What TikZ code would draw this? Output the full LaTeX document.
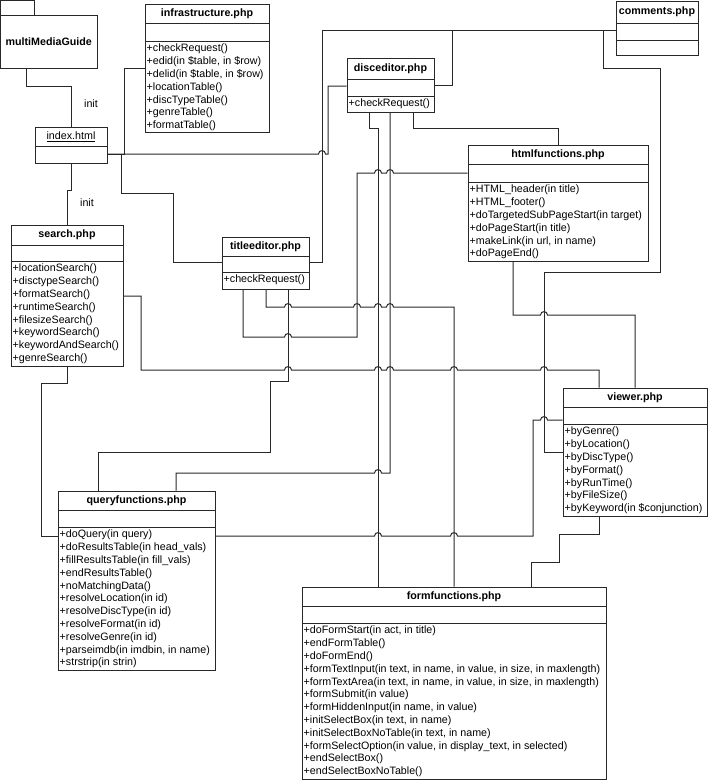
\documentclass[tikz,border=0pt]{standalone}
\usepackage{fontspec}
\setmainfont{Liberation Sans}
\usetikzlibrary{fit}
\definecolor{linec}{RGB}{40,40,40}
\tikzset{
  boxshape/.style={draw=linec, fill=white, line width=1pt, inner sep=0pt, rectangle},
  conn/.style={draw=linec, line width=1pt},
  titletext/.style={font=\bfseries\fontsize{10.7}{12.8}\selectfont, inner sep=0pt},
  methodtext/.style={font=\fontsize{10.7}{12.8}\selectfont, align=left, anchor=north west, inner xsep=1.5pt, inner ysep=1.8pt},
  lbl/.style={font=\fontsize{10.7}{12.8}\selectfont, inner sep=0pt}
}
% #1 name, #2 x1, #3 y1, #4 x2, #5 y2, #6 divider1, #7 divider2, #8 title, #9 methods
\newcommand\umlclass[9]{%
  \node[boxshape, fit={(#2,#3) (#4,#5)}] (#1) {};
  \draw[linec, line width=1pt] (#2,#6) -- (#4,#6);
  \draw[linec, line width=1pt] (#2,#7) -- (#4,#7);
  \node[titletext] at ({(#2+#4)/2},{(#3+#6)/2}) {#8};
  \node[methodtext] at (#2,#7) {\strut #9};
}
\newcommand\hr[2]{-- ({#1-3.5},#2) .. controls ({#1-3.5},{#2-4.5}) and ({#1+3.5},{#2-4.5}) .. ({#1+3.5},#2)}
\newcommand\hl[2]{-- ({#1+3.5},#2) .. controls ({#1+3.5},{#2-4.5}) and ({#1-3.5},{#2-4.5}) .. ({#1-3.5},#2)}
\begin{document}
\begin{tikzpicture}[x=1pt, y=-1pt]
\useasboundingbox (0,0) rectangle (708,780);

% ---------- nodes ----------
\node[boxshape, fit={(0.5,15) (97,68)}] (mmg) {};
\draw[linec, line width=1pt, fill=white] (0.5,15) -- (0.5,0.5) -- (34,0.5) -- (34,15);
\node[titletext] at (mmg.center) {multiMediaGuide};

\node[boxshape, fit={(35,127) (107,163)}] (index) {};
\draw[linec, line width=1pt] (35,146) -- (107,146);
\node[lbl] at (71,136.5) {\underline{index.html}};

\umlclass{infra}{145}{4}{269}{132}{23}{41}{infrastructure.php}{+checkRequest()\\+edid(in \$table, in \$row)\\+delid(in \$table, in \$row)\\+locationTable()\\+discTypeTable()\\+genreTable()\\+formatTable()}
\umlclass{disc}{347}{58}{434}{112}{79}{96}{disceditor.php}{+checkRequest()}
\umlclass{comments}{616}{1}{698}{55}{23}{40}{comments.php}{}
\umlclass{html}{468}{145}{648}{261}{164}{182}{htmlfunctions.php}{+HTML\_header(in title)\\+HTML\_footer()\\+doTargetedSubPageStart(in target)\\+doPageStart(in title)\\+makeLink(in url, in name)\\+doPageEnd()}
\umlclass{titleed}{222}{237}{309}{289}{256}{272}{titleeditor.php}{+checkRequest()}
\umlclass{search}{11}{225}{123}{366}{245}{261}{search.php}{+locationSearch()\\+disctypeSearch()\\+formatSearch()\\+runtimeSearch()\\+filesizeSearch()\\+keywordSearch()\\+keywordAndSearch()\\+genreSearch()}
\umlclass{viewer}{563}{388}{707}{516}{407}{424}{viewer.php}{+byGenre()\\+byLocation()\\+byDiscType()\\+byFormat()\\+byRunTime()\\+byFileSize()\\+byKeyword(in \$conjunction)}
\umlclass{query}{58}{491}{215}{670}{510}{527}{queryfunctions.php}{+doQuery(in query)\\+doResultsTable(in head\_vals)\\+fillResultsTable(in fill\_vals)\\+endResultsTable()\\+noMatchingData()\\+resolveLocation(in id)\\+resolveDiscType(in id)\\+resolveFormat(in id)\\+resolveGenre(in id)\\+parseimdb(in imdbin, in name)\\+strstrip(in strin)}
\umlclass{form}{302}{587}{606}{779}{606}{623}{formfunctions.php}{+doFormStart(in act, in title)\\+endFormTable()\\+doFormEnd()\\+formTextInput(in text, in name, in value, in size, in maxlength)\\+formTextArea(in text, in name, in value, in size, in maxlength)\\+formSubmit(in value)\\+formHiddenInput(in name, in value)\\+initSelectBox(in text, in name)\\+initSelectBoxNoTable(in text, in name)\\+formSelectOption(in value, in display\_text, in selected)\\+endSelectBox()\\+endSelectBoxNoTable()}

% ---------- connectors ----------
\draw[conn] (mmg.south -| 26,0) -- (26,86) -- (71,86) -- (index.north -| 71,0);
\node[lbl] at (91,104) {init};
\draw[conn] (index.south -| 71,0) -- (71,190) -- (67,190) -- (search.north -| 67,0);
\node[lbl] at (87,203) {init};

\draw[conn] (index.east |- 0,154) -- (124,154) -- (124,68) -- (infra.west |- 0,68);
\draw[conn] (index.east |- 0,154) \hr{322}{154} -- (328,154) -- (328,86) -- (disc.west |- 0,86);
\draw[conn] (index.east |- 0,154) -- (121,154) -- (121,193) -- (173,193) -- (173,262) -- (titleed.west |- 0,262);

\draw[conn] (comments.west |- 0,30) -- (322,30) -- (322,262) -- (titleed.east |- 0,262);
\draw[conn] (disc.east |- 0,85) -- (452,85) -- (452,30) -- (comments.west |- 0,30);
\draw[conn] (comments.west |- 0,30) -- (603,30) -- (603,68) -- (660,68) -- (660,272) -- (544,272) -- (544,452) -- (viewer.west |- 0,452);

\draw[conn] (disc.south -| 413,0) -- (413,128) -- (558,128) -- (html.north -| 558,0);
\draw[conn] (disc.south -| 369,0) -- (369,128) -- (378,128) -- (form.north -| 378,0);
\draw[conn] (disc.south -| 390,0) -- (390,473) \hl{378}{473} -- (176,473) -- (query.north -| 176,0);

\draw[conn] (titleed.south -| 243,0) -- (243,337) \hr{288}{337} -- (357,337) -- (357,173) \hr{378}{173} \hr{390}{173} -- (html.west |- 0,173);
\draw[conn] (titleed.south -| 266,0) -- (266,307) \hr{288}{307} \hr{357}{307} \hr{378}{307} \hr{390}{307} -- (454,307) -- (form.north -| 454,0);
\draw[conn] (titleed.south -| 288,0) -- (288,381) -- (270,381) -- (270,452) -- (98,452) -- (query.north -| 98,0);

\draw[conn] (search.east |- 0,296) -- (141,296) -- (141,370) \hr{288}{370} \hr{378}{370} \hr{390}{370} \hr{454}{370} \hr{544}{370} -- (599,370) -- (viewer.north -| 599,0);
\draw[conn] (search.south -| 67,0) -- (67,383) -- (41,383) -- (41,536) -- (query.west |- 0,536);

\draw[conn] (query.east |- 0,536) \hr{378}{536} \hr{454}{536} -- (533,536) -- (533,420) \hr{544}{420} -- (viewer.west |- 0,420);
\draw[conn] (html.south -| 513,0) -- (513,315) \hr{544}{315} -- (635,315) -- (viewer.north -| 635,0);
\draw[conn] (viewer.south -| 599,0) -- (599,534) -- (559,534) -- (559,562) -- (531,562) -- (form.north -| 531,0);
\end{tikzpicture}
\end{document}
